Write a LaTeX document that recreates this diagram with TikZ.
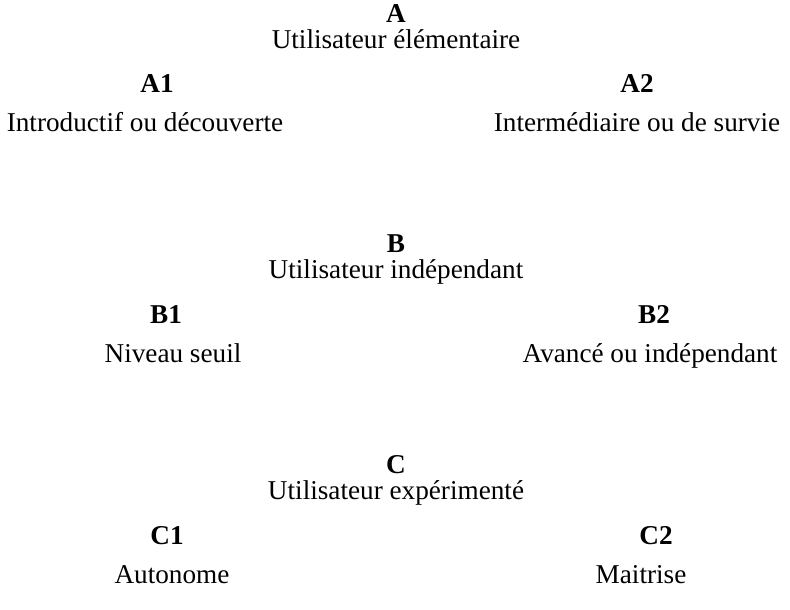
\documentclass[tikz,border=0pt]{standalone}
\usepackage{fontspec}
\setmainfont{Liberation Serif}
\begin{document}
\begin{tikzpicture}[x=0.5pt,y=-0.5pt,
  lvl/.style={font=\fontsize{13.6}{16}\selectfont\bfseries,inner sep=0pt,anchor=base},
  txt/.style={font=\fontsize{13.6}{16}\selectfont,inner sep=0pt,anchor=base}]
\useasboundingbox (0,0) rectangle (790,609);
\node[lvl] (A) at (396,23) {A};
\node[txt] (Au) at (396,49) {Utilisateur élémentaire};
\node[lvl] (A1) at (157,93) {A1};
\node[lvl] (A2) at (637,93) {A2};
\node[txt] (A1t) at (145,132) {Introductif ou découverte};
\node[txt] (A2t) at (637,132) {Intermédiaire ou de survie};
\node[lvl] (B) at (396,252) {B};
\node[txt] (Bu) at (396,278) {Utilisateur indépendant};
\node[lvl] (B1) at (166,323) {B1};
\node[lvl] (B2) at (654,323) {B2};
\node[txt] (B1t) at (173,362) {Niveau seuil};
\node[txt] (B2t) at (650,362) {Avancé ou indépendant};
\node[lvl] (C) at (396,473) {C};
\node[txt] (Cu) at (396,499) {Utilisateur expérimenté};
\node[lvl] (C1) at (167,544) {C1};
\node[lvl] (C2) at (656,544) {C2};
\node[txt] (C1t) at (172,583) {Autonome};
\node[txt] (C2t) at (641,583) {Maitrise};
\end{tikzpicture}
\end{document}
